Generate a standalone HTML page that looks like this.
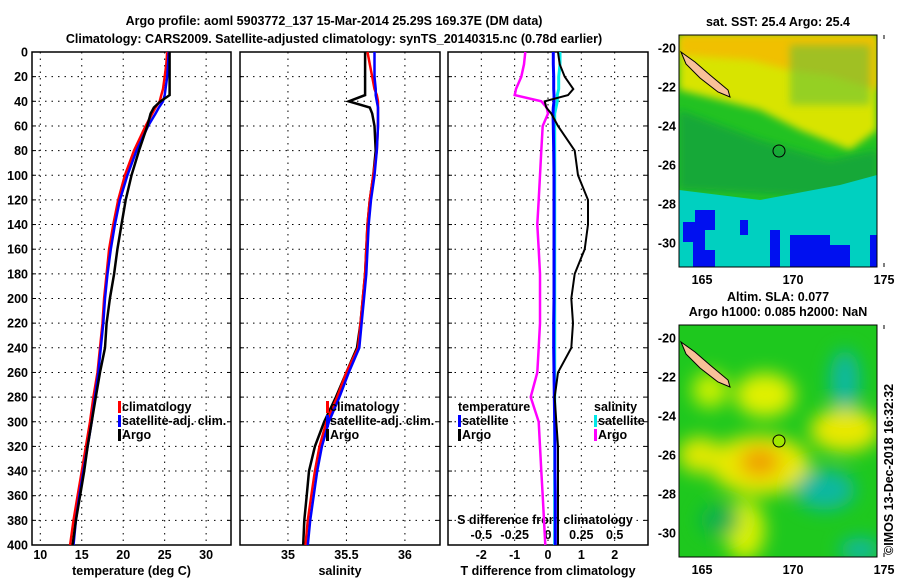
<!DOCTYPE html>
<html><head><meta charset="utf-8"><style>
body{margin:0;background:#fff;width:900px;height:580px;overflow:hidden}
svg{display:block}
text{font-family:"Liberation Sans",sans-serif;font-weight:bold;font-size:12.5px;fill:#000}
</style></head><body>
<svg id="c" width="900" height="580" xmlns="http://www.w3.org/2000/svg">
<defs>
<filter id="bl" x="-50%" y="-50%" width="200%" height="200%"><feGaussianBlur stdDeviation="9"/></filter>
<filter id="bl2" x="-50%" y="-50%" width="200%" height="200%"><feGaussianBlur stdDeviation="4"/></filter>
<clipPath id="m1"><rect x="679" y="35" width="198" height="232"/></clipPath>
<clipPath id="m2"><rect x="679" y="325" width="198" height="232"/></clipPath>
</defs>
<text x="334" y="25" text-anchor="middle" font-size="15.5">Argo profile: aoml 5903772_137 15-Mar-2014 25.29S 169.37E (DM data)</text>
<text x="334" y="43" text-anchor="middle" font-size="15.5">Climatology: CARS2009. Satellite-adjusted climatology: synTS_20140315.nc (0.78d earlier)</text>
<g id="g"></g>

<!-- map 1 -->
<g clip-path="url(#m1)">
<rect x="679" y="35" width="198" height="232" fill="#22c222"/>
<path d="M679 35 H877 V130 L850 150 L800 130 L760 110 L720 100 L679 90Z" fill="#d8e400" filter="url(#bl2)"/>
<path d="M679 35 H877 V90 L830 75 L790 70 L750 60 L679 55Z" fill="#f0c000" filter="url(#bl2)"/>
<rect x="790" y="45" width="80" height="60" fill="#60c040" opacity="0.55" filter="url(#bl2)"/>
<path d="M679 110 L760 140 L830 160 L877 150 V200 L679 190Z" fill="#18a838" filter="url(#bl2)"/>
<path d="M679 190 L760 200 L840 185 L877 175 V267 H679Z" fill="#00d0c0"/>
<path d="M695 210 h20 v20 h-10 v20 h10 v17 h-22 v-25 h-10 v-20 h12z" fill="#0010f0"/>
<path d="M740 220 h8 v15 h-8z M770 230 h10 v37 h-10z M790 235 h40 v10 h20 v22 h-60z M870 235 h7 v32 h-7z" fill="#0010f0"/>
<path d="M681 52 L695 62 L710 75 L728 90 L730 97 L718 92 L700 78 L686 64Z" fill="#f8c098" stroke="#000" stroke-width="1"/>
<circle cx="779" cy="151" r="6" fill="none" stroke="#000" stroke-width="1"/>
</g>
<rect x="679" y="35" width="198" height="232" fill="none" stroke="#000"/>
<text x="778" y="26" text-anchor="middle">sat. SST: 25.4 Argo: 25.4</text>

<!-- map 2 -->
<g clip-path="url(#m2)">
<rect x="679" y="325" width="198" height="232" fill="#1ec81e"/>
<g filter="url(#bl)">
<ellipse cx="765" cy="395" rx="30" ry="22" fill="#e0f000"/>
<ellipse cx="845" cy="430" rx="35" ry="22" fill="#e8e800"/>
<ellipse cx="760" cy="465" rx="50" ry="30" fill="#e8e800"/>
<ellipse cx="760" cy="462" rx="20" ry="15" fill="#f0a000"/>
<ellipse cx="700" cy="455" rx="22" ry="18" fill="#e0e800"/>
<ellipse cx="710" cy="390" rx="18" ry="18" fill="#c8f000"/>
<ellipse cx="745" cy="530" rx="20" ry="30" fill="#d8f000"/>
<ellipse cx="845" cy="380" rx="15" ry="30" fill="#10b8a0"/>
<ellipse cx="825" cy="490" rx="30" ry="20" fill="#10b8a0"/>
<ellipse cx="860" cy="550" rx="20" ry="12" fill="#10b8a0"/>
<ellipse cx="720" cy="520" rx="20" ry="15" fill="#10b050"/>
</g>
<path d="M681 342 L695 352 L710 365 L728 380 L730 387 L718 382 L700 368 L686 354Z" fill="#f8c098" stroke="#000" stroke-width="1"/>
<circle cx="779" cy="441" r="6" fill="#a0e800" stroke="#000" stroke-width="1"/>
</g>
<rect x="679" y="325" width="198" height="232" fill="none" stroke="#000"/>
<text x="778" y="301" text-anchor="middle">Altim. SLA: 0.077</text>
<text x="778" y="316" text-anchor="middle">Argo h1000: 0.085 h2000: NaN</text>
<text transform="translate(893,555) rotate(-90)" font-weight="normal" font-size="12">©IMOS 13-Dec-2018 16:32:32</text>
</svg>
<script>
const depths=[0,10,20,30,35,40,45,50,60,80,100,120,140,160,180,200,220,240,260,280,300,320,340,360,380,400];
const tempClim=[25.3,25.2,25.0,24.8,24.6,24.4,23.9,23.5,22.7,21.3,20.2,19.4,18.8,18.3,18.0,17.7,17.5,17.2,16.9,16.4,16.0,15.5,15.0,14.5,14.0,13.6];
const tempSat=[25.5,25.4,25.3,25.1,25.0,24.8,24.3,23.9,23.0,21.6,20.5,19.6,19.0,18.5,18.1,17.8,17.6,17.3,17.0,16.6,16.2,15.7,15.2,14.7,14.3,14.0];
const tempArgo=[25.6,25.6,25.6,25.6,25.6,24.5,23.7,23.3,22.9,21.9,21.0,20.3,19.8,19.3,18.9,18.4,18.0,17.8,17.2,16.7,16.2,15.7,15.3,14.8,14.3,13.9];
const salClim=[35.68,35.70,35.72,35.74,35.76,35.77,35.77,35.77,35.77,35.76,35.73,35.70,35.68,35.67,35.66,35.64,35.62,35.60,35.50,35.42,35.33,35.27,35.23,35.20,35.17,35.15];
const salSat=[35.74,35.74,35.74,35.75,35.75,35.76,35.77,35.77,35.77,35.76,35.74,35.71,35.69,35.68,35.67,35.65,35.63,35.61,35.52,35.44,35.35,35.29,35.25,35.22,35.19,35.17];
const salArgo=[35.66,35.66,35.66,35.66,35.66,35.52,35.70,35.72,35.74,35.75,35.73,35.70,35.68,35.67,35.66,35.64,35.62,35.59,35.50,35.41,35.31,35.23,35.18,35.16,35.14,35.13];
const dTsat=[0.16,0.16,0.17,0.17,0.18,0.18,0.16,0.15,0.16,0.17,0.18,0.18,0.18,0.18,0.18,0.18,0.17,0.17,0.18,0.19,0.20,0.21,0.21,0.22,0.22,0.22];
const dTargo=[0.3,0.35,0.5,0.76,0.6,-0.1,-0.05,0.1,0.3,0.8,0.9,1.2,1.2,1.1,0.8,0.7,0.75,0.7,0.3,0.2,0.25,0.3,0.3,0.3,0.3,0.3];
const dSsat=[0.09,0.09,0.08,0.08,0.07,0.07,0.06,0.05,0.05,0.05,0.05,0.05,0.05,0.05,0.05,0.05,0.05,0.05,0.05,0.05,0.05,0.05,0.05,0.05,0.05,0.05];
const dSargo=[-0.17,-0.18,-0.2,-0.24,-0.25,-0.05,-0.01,0.0,-0.04,-0.05,-0.06,-0.07,-0.08,-0.07,-0.06,-0.06,-0.06,-0.07,-0.08,-0.13,-0.07,-0.06,-0.05,-0.04,-0.03,-0.02];
const depthTicks=[0,20,40,60,80,100,120,140,160,180,200,220,240,260,280,300,320,340,360,380,400];
const tempTicks=[10,15,20,25,30];
const salTicks=[35,35.5,36];
const tdTicks=[-2,-1,0,1,2];
const sdTicks=["-0.5","-0.25","0","0.25","0.5"];
const lonTicks=[165,170,175];
const latTicks=[-20,-22,-24,-26,-28,-30];

const NS="http://www.w3.org/2000/svg";
const G=document.getElementById('g');
function mk(tag,at,parent){const e=document.createElementNS(NS,tag);for(const k in at)e.setAttribute(k,at[k]);(parent||G).appendChild(e);return e;}
const Y=d=>52+(d/400)*493;
const panels=[
 {x0:32,x1:231,lo:9,hi:33,ticks:tempTicks,lab:"temperature (deg C)",nm:"temperature"},
 {x0:240,x1:440,lo:34.59,hi:36.30,ticks:salTicks,lab:"salinity",nm:"salinity"},
 {x0:448,x1:648,lo:-3,hi:3,ticks:tdTicks,lab:"T difference from climatology",nm:"difference"}
];
const X=(p,v)=>p.x0+(v-p.lo)/(p.hi-p.lo)*(p.x1-p.x0);
const XS=v=>X(panels[2],v*4);
panels.forEach((p,i)=>{
 const b=mk('rect',{x:p.x0,y:52,width:p.x1-p.x0,height:493,fill:'none',stroke:'#000','stroke-width':1.5});
 
 depthTicks.forEach(d=>{
  if(d>0&&d<400){const l=mk('line',{x1:p.x0,x2:p.x1,y1:Y(d),y2:Y(d),stroke:'#000','stroke-dasharray':'1.5,5'});
  }
  mk('line',{x1:p.x0,x2:p.x0+4,y1:Y(d),y2:Y(d),stroke:'#000'});
  mk('line',{x1:p.x1-4,x2:p.x1,y1:Y(d),y2:Y(d),stroke:'#000'});
  if(i==0){const t=mk('text',{x:28,y:Y(d)+4.5,'text-anchor':'end'});t.textContent=d;
  }
 });
 p.ticks.forEach(v=>{const x=X(p,v);
  const l=mk('line',{x1:x,x2:x,y1:52,y2:545,stroke:'#000','stroke-dasharray':'1.5,5'});
  
  const t=mk('text',{x:x,y:559,'text-anchor':'middle'});t.textContent=v;
  });
 const t=mk('text',{x:(p.x0+p.x1)/2,y:575,'text-anchor':'middle'});t.textContent=p.lab;
 
});
sdTicks.forEach((s,i)=>{const t=mk('text',{x:XS(parseFloat(s)),y:539,'text-anchor':'middle'});t.textContent=s;
 });
{const t=mk('text',{x:545,y:524,'text-anchor':'middle'});t.textContent='S difference from climatology';
 }
function line(vals,xf,col,nm,w){
 let d='';vals.forEach((v,i)=>{d+=(i?'L':'M')+xf(v).toFixed(1)+' '+Y(depths[i]).toFixed(1);});
 const p=mk('path',{d:d,fill:'none',stroke:col,'stroke-width':w||2.5});
 }
line(tempClim,v=>X(panels[0],v),'#f00','temp-climatology-line');
line(tempSat,v=>X(panels[0],v),'#00f','temp-satellite-line');
line(tempArgo,v=>X(panels[0],v),'#000','temp-argo-line');
line(salArgo,v=>X(panels[1],v),'#000','sal-argo-line');
line(salClim,v=>X(panels[1],v),'#f00','sal-climatology-line');
line(salSat,v=>X(panels[1],v),'#00f','sal-satellite-line');
line(dSsat,XS,'#00e8e8','s-diff-satellite-line',3);
line(dSargo,XS,'#f0f','s-diff-argo-line');
line(dTsat,v=>X(panels[2],v),'#00f','t-diff-satellite-line',3);
line(dTargo,v=>X(panels[2],v),'#000','t-diff-argo-line',2);
function leg(x,y,col,txt,nm,anchor){
 if(col)mk('rect',{x:x-4,y:y-10,width:3,height:12,fill:col});
 const t=mk('text',{x:x,y:y,'text-anchor':anchor||'start'});t.textContent=txt;
 }
[[0,'#f00','climatology'],[1,'#00f','satellite-adj. clim.'],[2,'#000','Argo']].forEach(([k,c,s])=>{
 leg(122,411+k*14,c,s,'legend-entry');leg(330,411+k*14,c,s,'legend-entry');});
leg(458,411,null,'temperature','legend-header');
leg(462,425,'#00f','satellite','legend-entry');leg(462,439,'#000','Argo','legend-entry');
leg(594,411,null,'salinity','legend-header');
leg(598,425,'#00e8e8','satellite','legend-entry');leg(598,439,'#f0f','Argo','legend-entry');
const LX=v=>702+(v-165)*18.2;
[[35,48,39/2],[325,338,39/2]].forEach(([top,l20,per])=>{
 lonTicks.forEach(v=>{const x=LX(v);mk('line',{x1:x,x2:x,y1:top,y2:top+4,stroke:'#000'});
  mk('line',{x1:x,x2:x,y1:top+228,y2:top+232,stroke:'#000'});
  const t=mk('text',{x:x,y:top+249,'text-anchor':'middle'});t.textContent=v;
  });
 latTicks.forEach(v=>{const y=l20+(-20-v)*per;
  mk('line',{x1:873,x2:877,y1:y,y2:y,stroke:'#000'});mk('line',{x1:679,x2:683,y1:y,y2:y,stroke:'#000'});
  const t=mk('text',{x:676,y:y+4.5,'text-anchor':'end'});t.textContent=v;
  });
});
</script>
</body></html>
